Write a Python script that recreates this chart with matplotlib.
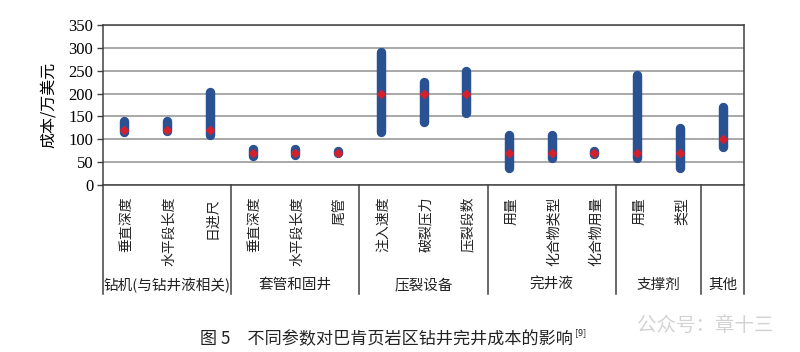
import matplotlib
matplotlib.use("Agg")
import matplotlib.pyplot as plt
import matplotlib.transforms as mtransforms

plt.rcParams['font.family'] = ['Noto Sans CJK SC', 'DejaVu Sans']

# ---- data ----
categories = ["垂直深度", "水平段长度", "日进尺",
              "垂直深度", "水平段长度", "尾管",
              "注入速度", "破裂压力", "压裂段数",
              "用量", "化合物类型", "化合物用量",
              "用量", "类型",
              ""]
low_vals = [115, 118, 110, 64, 66, 69, 115, 138, 158, 38, 58, 68, 60, 38, 83]
high_vals = [139, 139, 204, 79, 79, 74, 291, 226, 250, 110, 110, 75, 240, 125, 170]
mid_vals = [120, 120, 120, 70, 70, 70, 200, 200, 200, 70, 70, 70, 70, 70, 100]
groups = ["钻机(与钻井液相关)", "套管和固井", "压裂设备", "完井液", "支撑剂", "其他"]
group_sizes = [3, 3, 3, 3, 2, 1]
yticks = [0, 50, 100, 150, 200, 250, 300, 350]

fig = plt.figure(figsize=(8, 3.52), dpi=100)
ax = fig.add_axes([103/800, 1-185/352, (744-103)/800, 160/352])

n = len(categories)
xs = list(range(n))
bar_color = "#2a5191"
for x, lo, hi in zip(xs, low_vals, high_vals):
    ax.plot([x, x], [lo, hi], color=bar_color, lw=6.8, solid_capstyle='round', zorder=3)
ax.plot(xs, mid_vals, linestyle='none', marker='D', markersize=4.2,
        color="#d4202c", zorder=4)

ax.set_xlim(-0.5, n - 0.5)
ax.set_ylim(0, 350)
ax.set_yticks(yticks)
ax.set_yticklabels([str(t) for t in yticks], family=['Liberation Serif'], fontsize=12)
ax.set_xticks([])
ax.yaxis.grid(True, color="#a8a8a8", lw=1.4)
ax.set_axisbelow(True)
for s in ax.spines.values():
    s.set_color("#404040")
    s.set_linewidth(1.1)
ax.tick_params(axis='y', length=4, width=1, color="#404040", pad=3)
ax.set_ylabel("成本/万美元", fontsize=11.5, labelpad=8)

trans = mtransforms.blended_transform_factory(ax.transData, ax.transAxes)
line_bottom = (185 - 294) / 160.0

# separators
pos = -0.5
bounds = [pos]
for g in group_sizes:
    pos += g
    bounds.append(pos)
for b in bounds:
    ax.plot([b, b], [0, line_bottom], transform=trans, color="#404040", lw=1.1,
            clip_on=False)

# category labels
for x, lab in zip(xs, categories):
    if lab:
        ax.text(x + 0.05, (185 - 197) / 160.0, lab, transform=trans, rotation=90,
                ha='center', va='top', fontsize=10, color="#222222")

# group labels
for i, g in enumerate(groups):
    c = (bounds[i] + bounds[i + 1]) / 2
    ax.text(c, (185 - 285) / 160.0, g, transform=trans, ha='center', va='center',
            fontsize=10.5, color="#222222")

# caption
fig.text(386/800, 1 - 339/352, "图 5　不同参数对巴肯页岩区钻井完井成本的影响",
         ha='center', va='center', fontsize=12.3, color="#222222")
fig.text(575/800, 1 - 333/352, "[9]", ha='left', va='center', fontsize=6.5,
         color="#222222")
# watermark
fig.text(705/800, 1 - 325/352, "公众号：章十三", ha='center', va='center',
         fontsize=14, color="#c8c8c8", alpha=0.8)

fig.savefig("out.png", dpi=100)
